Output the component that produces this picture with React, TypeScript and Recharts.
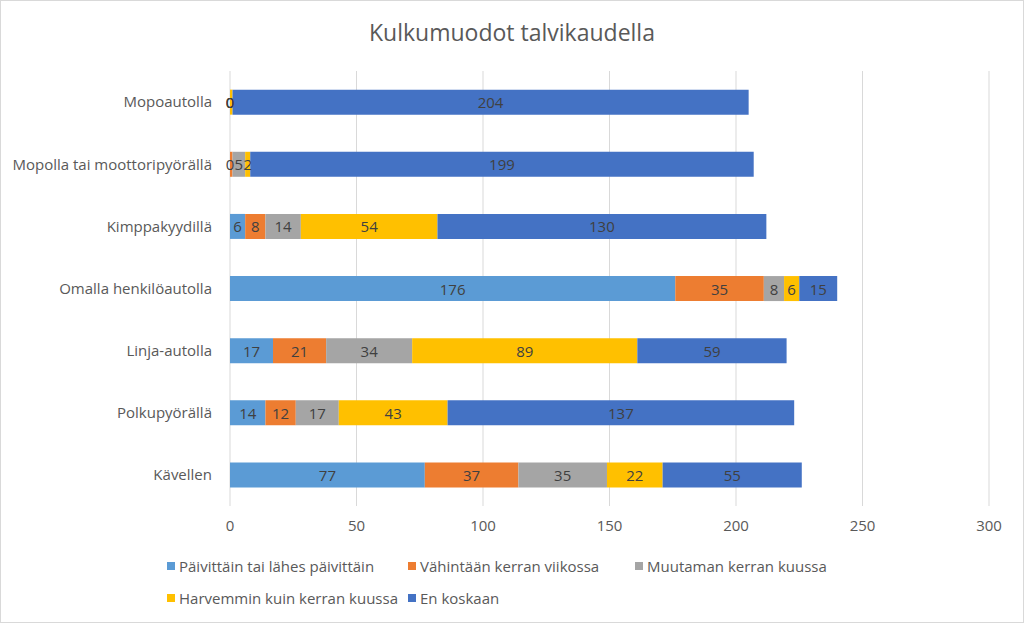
import React from "react";
import { BarChart, Bar, XAxis, YAxis, CartesianGrid, LabelList } from "recharts";

const categories = [
  "Mopoautolla",
  "Mopolla tai moottoripyörällä",
  "Kimppakyydillä",
  "Omalla henkilöautolla",
  "Linja-autolla",
  "Polkupyörällä",
  "Kävellen",
];
const paivittain = [0, 0, 6, 176, 17, 14, 77];
const viikossa = [0, 1, 8, 35, 21, 12, 37];
const kuussa = [0, 5, 14, 8, 34, 17, 35];
const harvemmin = [1, 2, 54, 6, 89, 43, 22];
const enKoskaan = [204, 199, 130, 15, 59, 137, 55];
const xTicks = [0, 50, 100, 150, 200, 250, 300];

const seriesNames = [
  "Päivittäin tai lähes päivittäin",
  "Vähintään kerran viikossa",
  "Muutaman kerran kuussa",
  "Harvemmin kuin kerran kuussa",
  "En koskaan",
];
const colors = ["#5B9BD5", "#ED7D31", "#A5A5A5", "#FFC000", "#4472C4"];
const keys = ["s0", "s1", "s2", "s3", "s4"];

const data = categories.map((c, i) => ({
  name: c,
  s0: paivittain[i],
  s1: viikossa[i],
  s2: kuussa[i],
  s3: harvemmin[i],
  s4: enKoskaan[i],
}));

const FONT = "'Open Sans', 'Liberation Sans', sans-serif";

const renderLabel = (props: any) => {
  const { x, y, width, height, value } = props;
  if (value > 0 && width < 4) return null;
  return (
    <text
      x={x + width / 2}
      y={y + height / 2}
      textAnchor="middle"
      dominantBaseline="central"
      fill="#404040"
      fontSize={15}
      fontFamily={FONT}
    >
      {value}
    </text>
  );
};

const legendPos = [
  { left: 166, top: 555 },
  { left: 407, top: 555 },
  { left: 634, top: 555 },
  { left: 166, top: 587 },
  { left: 407, top: 587 },
];

export default function App() {
  return (
    <div
      style={{
        position: "absolute",
        left: 0,
        top: 0,
        width: 1024,
        height: 623,
        background: "#fff",
        boxSizing: "border-box",
        border: "1px solid #D9D9D9",
      }}
    >
      <div
        style={{
          position: "absolute",
          top: 15,
          width: "100%",
          textAlign: "center",
          fontFamily: FONT,
          fontSize: 23,
          color: "#595959",
        }}
      >
        Kulkumuodot talvikaudella
      </div>
      <BarChart
        width={1022}
        height={621}
        data={data}
        layout="vertical"
        margin={{ top: 70, right: 34, bottom: 86, left: 9 }}
        barCategoryGap="30%"
      >
        <CartesianGrid horizontal={false} stroke="#D9D9D9" />
        <XAxis
          type="number"
          domain={[0, 300]}
          ticks={xTicks}
          axisLine={false}
          tickLine={false}
          tick={{ fill: "#595959", fontSize: 15, fontFamily: FONT }}
          tickMargin={8}
        />
        <YAxis
          type="category"
          dataKey="name"
          width={220}
          axisLine={false}
          tickLine={false}
          tick={{ fill: "#595959", fontSize: 15, fontFamily: FONT }}
          tickMargin={12}
        />
        {keys.map((k, i) => (
          <Bar
            key={k}
            dataKey={k}
            stackId="a"
            fill={colors[i]}
            name={seriesNames[i]}
            minPointSize={0.01}
            isAnimationActive={false}
          >
            <LabelList dataKey={k} content={renderLabel} />
          </Bar>
        ))}
      </BarChart>
      {seriesNames.map((n, i) => (
        <div
          key={n}
          style={{
            position: "absolute",
            left: legendPos[i].left,
            top: legendPos[i].top,
            display: "flex",
            alignItems: "center",
            whiteSpace: "nowrap",
            fontFamily: FONT,
            fontSize: 15,
            lineHeight: "20px",
            color: "#595959",
          }}
        >
          <span style={{ width: 8, height: 8, background: colors[i], marginRight: 4, flexShrink: 0, display: "inline-block" }} />
          <span>{n}</span>
        </div>
      ))}
    </div>
  );
}
